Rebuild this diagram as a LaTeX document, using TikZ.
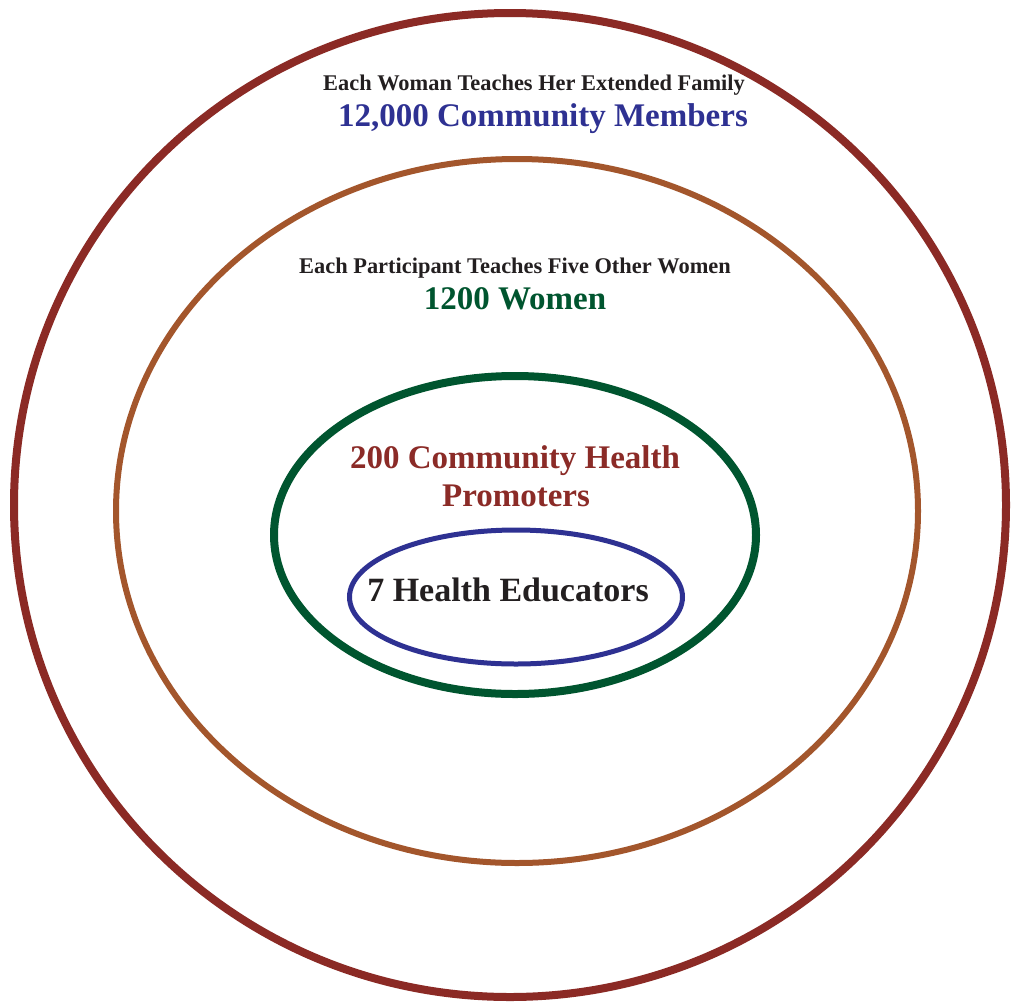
\documentclass[tikz,border=0pt]{standalone}
\usepackage{fontspec}
\setmainfont{Liberation Serif}
\definecolor{outerred}{HTML}{8B2A25}
\definecolor{ringorange}{HTML}{A3562C}
\definecolor{ringgreen}{HTML}{00552F}
\definecolor{ringblue}{HTML}{2E3192}
\definecolor{txtdark}{HTML}{231F20}
\definecolor{txtred}{HTML}{8B2B27}
\begin{document}
\begin{tikzpicture}[x=1pt,y=-1pt,
  ring/.style={draw, fill=none},
  small/.style={anchor=base, inner sep=0pt, text=txtdark, font=\fontsize{22.4}{26}\selectfont\bfseries},
  big/.style={anchor=base, inner sep=0pt, font=\fontsize{33}{38}\selectfont\bfseries}]
\useasboundingbox (0,0) rectangle (1012,1002);
\fill[white] (0,0) rectangle (1012,1002);
\draw[ring, outerred, line width=8pt] (510,505) ellipse [x radius=496pt, y radius=492pt];
\draw[ring, ringorange, line width=6pt] (517,511) ellipse [x radius=401pt, y radius=352pt];
\draw[ring, ringgreen, line width=8pt] (515,535) ellipse [x radius=241pt, y radius=159pt];
\draw[ring, ringblue, line width=5pt] (516,597) ellipse [x radius=166.5pt, y radius=67pt];
\node[small] (t1) at (534,90) {Each Woman Teaches Her Extended Family};
\node[big, text=ringblue] (t2) at (543,126) {12,000 Community Members};
\node[small] (t3) at (515,273) {Each Participant Teaches Five Other Women};
\node[big, text=ringgreen] (t4) at (515,309) {1200 Women};
\node[big, text=txtred] (t5) at (515,468) {200 Community Health};
\node[big, text=txtred] (t6) at (516,506) {Promoters};
\node[big, text=txtdark, font=\fontsize{34}{38}\selectfont\bfseries] (t7) at (508,601) {7 Health Educators};
\end{tikzpicture}
\end{document}
